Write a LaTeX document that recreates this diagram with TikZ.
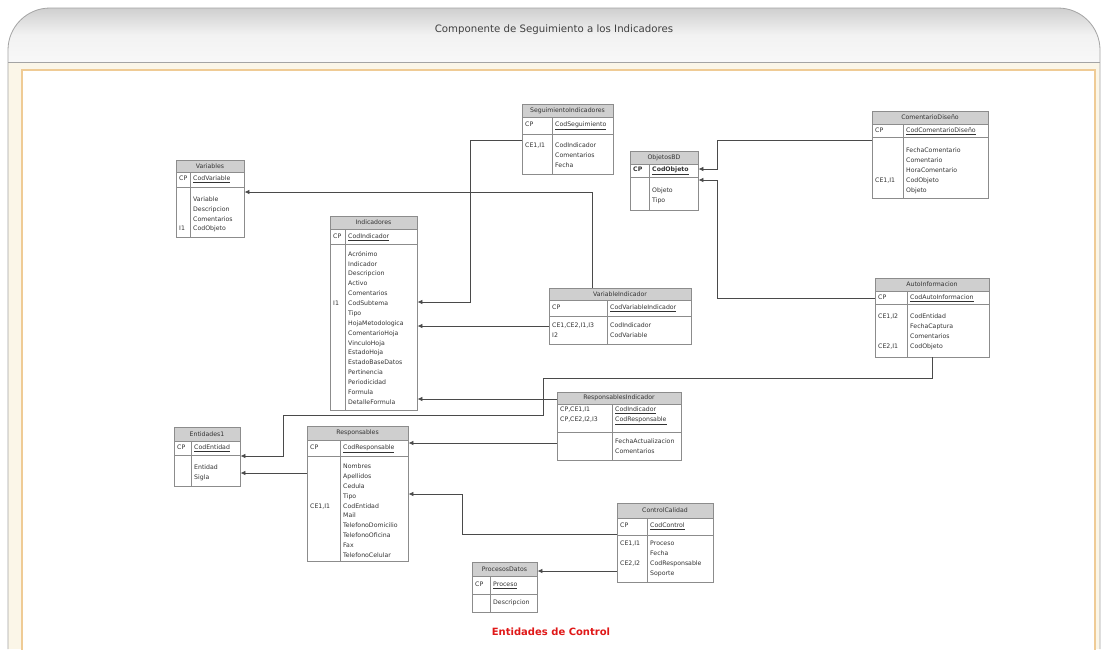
\documentclass[tikz,border=0pt]{standalone}
\usepackage{fontspec}
\setmainfont{DejaVu Sans}
\usetikzlibrary{arrows.meta,fit}
\definecolor{framegray}{HTML}{A4A4A4}
\definecolor{headtop}{HTML}{CFCFCF}
\definecolor{headmid}{HTML}{F2F2F2}
\definecolor{headbot}{HTML}{F8F8F8}
\definecolor{cream}{HTML}{FBF6E8}
\definecolor{innerline}{HTML}{EFCB95}
\definecolor{tblline}{HTML}{8C8C8C}
\definecolor{titlefill}{HTML}{CFCFCF}
\definecolor{tbltext}{HTML}{333333}
\definecolor{connline}{HTML}{4A4A4A}
\definecolor{footred}{HTML}{E01818}

% one ER table: name, x1, x2, y top, y title bottom, y key bottom, y bottom, x divider, title
\newcommand\ertable[9]{%
  \fill[titlefill] (#2,#4) rectangle (#3,#5);
  \draw[tblrule] (#2,#5) -- (#3,#5) (#2,#6) -- (#3,#6) (#8,#5) -- (#8,#7);
  \node[tblbox, fit={(#2,#4) (#3,#7)}] (#1) {};
  \node[tbltitle] (#1-t) at ({(#2+#3)/2},{(#4+#5)/2}) {#9};
}

\begin{document}
\begin{tikzpicture}[x=1pt,y=-1pt,
  tblrule/.style={draw=tblline, line width=0.7pt},
  tblbox/.style={draw=tblline, line width=0.8pt, inner sep=0pt},
  tbltitle/.style={font=\fontsize{6.2}{7}\selectfont, text=tbltext, inner sep=0pt},
  cell/.style={font=\fontsize{6.2}{9.8}\selectfont, text=tbltext, align=left,
    anchor=north west, inner sep=0pt},
  conn/.style={draw=connline, line width=0.8pt,
    -{Latex[length=5pt,width=4.5pt]}}]
\useasboundingbox (0,0) rectangle (1107,649);
\fill[white] (0,0) rectangle (1107,649);

% page frame and header band
\fill[cream] (8,62) rectangle (1100,649);
\shade[top color=headtop, bottom color=headbot, middle color=headmid]
  (8,62) -- (8,50) arc[start angle=180, end angle=270, radius=42] -- (1058,8)
  arc[start angle=270, end angle=360, radius=42] -- (1100,62) -- cycle;
\draw[framegray, line width=0.8pt]
  (8,649) -- (8,50) arc[start angle=180, end angle=270, radius=42] -- (1058,8)
  arc[start angle=270, end angle=360, radius=42] -- (1100,649);
\draw[framegray, line width=0.8pt] (8,62) -- (1100,62);
\draw[innerline, line width=1.2pt, fill=white] (22,70) rectangle (1095,660);
\node[font=\fontsize{10.2}{12}\selectfont, text=black!75] (head) at (554,30)
  {Componente de Seguimiento a los Indicadores};
\node[font=\fontsize{10}{12}\selectfont\bfseries, text=footred] (foot) at (551,632)
  {Entidades de Control};

% tables
\ertable{var}{176}{244}{160}{172}{187}{237}{190}{Variables}
\node[cell] (var-kl) at (179,176) {CP};
\node[cell] (var-kr) at (193,176) {\underline{CodVariable}};
\node[cell] (var-br) at (193,196.5) {Variable\\Descripcion\\Comentarios\\CodObjeto};
\node[cell] (var-bl) at (179,226) {I1};

\ertable{seg}{522}{613}{104}{117}{134}{174}{552}{SeguimientoIndicadores}
\node[cell] (seg-kl) at (525,122) {CP};
\node[cell] (seg-kr) at (555,122) {\underline{CodSeguimiento}};
\node[cell] (seg-bl) at (525,143) {CE1,I1};
\node[cell] (seg-br) at (555,143) {CodIndicador\\Comentarios\\Fecha};

\ertable{obj}{630}{698}{151}{164}{177}{210}{649}{ObjetosBD}
\node[cell, font=\fontsize{6.2}{9.8}\selectfont\bfseries] (obj-kl) at (633,167) {CP};
\node[cell, font=\fontsize{6.2}{9.8}\selectfont\bfseries] (obj-kr) at (652,167) {\underline{CodObjeto}};
\node[cell] (obj-br) at (652,188) {Objeto\\Tipo};

\ertable{com}{872}{988}{111}{124}{137}{198}{903}{ComentarioDiseño}
\node[cell] (com-kl) at (875,127.5) {CP};
\node[cell] (com-kr) at (906,127.5) {\underline{CodComentarioDiseño}};
\node[cell] (com-br) at (906,148) {FechaComentario\\Comentario\\HoraComentario\\CodObjeto\\Objeto};
\node[cell] (com-bl) at (875,177.4) {CE1,I1};

\ertable{ind}{330}{417}{216}{229}{244}{410}{345}{Indicadores}
\node[cell] (ind-kl) at (333,233.5) {CP};
\node[cell] (ind-kr) at (348,233.5) {\underline{CodIndicador}};
\node[cell, font=\fontsize{6.2}{9.87}\selectfont] (ind-br) at (348,251)
  {Acrónimo\\Indicador\\Descripcion\\Activo\\Comentarios\\CodSubtema\\Tipo\\HojaMetodologica\\ComentarioHoja\\VinculoHoja\\EstadoHoja\\EstadoBaseDatos\\Pertinencia\\Periodicidad\\Formula\\DetalleFormula};
\node[cell] (ind-bl) at (333,300.3) {I1};

\ertable{vin}{549}{691}{288}{300}{316}{344}{607}{VariableIndicador}
\node[cell] (vin-kl) at (552,305) {CP};
\node[cell] (vin-kr) at (610,305) {\underline{CodVariableIndicador}};
\node[cell] (vin-bl) at (552,323) {CE1,CE2,I1,I3\\I2};
\node[cell] (vin-br) at (610,323) {CodIndicador\\CodVariable};

\ertable{aut}{875}{989}{278}{291}{304}{357}{907}{AutoInformacion}
\node[cell] (aut-kl) at (878,294.5) {CP};
\node[cell] (aut-kr) at (910,294.5) {\underline{CodAutoInformacion}};
\node[cell] (aut-br) at (910,314) {CodEntidad\\FechaCaptura\\Comentarios\\CodObjeto};
\node[cell] (aut-bl) at (878,314) {CE1,I2};
\node[cell] (aut-bl2) at (878,343.4) {CE2,I1};

\ertable{rin}{557}{681}{392}{404}{432}{460}{612}{ResponsablesIndicador}
\node[cell] (rin-kl) at (560,407) {CP,CE1,I1\\CP,CE2,I2,I3};
\node[cell] (rin-kr) at (615,407) {\underline{CodIndicador}\\\underline{CodResponsable}};
\node[cell] (rin-br) at (615,439) {FechaActualizacion\\Comentarios};

\ertable{ent}{174}{240}{427}{441}{455}{486}{191}{Entidades1}
\node[cell] (ent-kl) at (177,445) {CP};
\node[cell] (ent-kr) at (194,445) {\underline{CodEntidad}};
\node[cell] (ent-br) at (194,465) {Entidad\\Sigla};

\ertable{res}{307}{408}{426}{440}{456}{561}{340}{Responsables}
\node[cell] (res-kl) at (310,445) {CP};
\node[cell] (res-kr) at (343,445) {\underline{CodResponsable}};
\node[cell] (res-br) at (343,464) {Nombres\\Apellidos\\Cedula\\Tipo\\CodEntidad\\Mail\\TelefonoDomicilio\\TelefonoOficina\\Fax\\TelefonoCelular};
\node[cell] (res-bl) at (310,503.2) {CE1,I1};

\ertable{cal}{617}{713}{503}{518}{535}{582}{647}{ControlCalidad}
\node[cell] (cal-kl) at (620,523) {CP};
\node[cell] (cal-kr) at (650,523) {\underline{CodControl}};
\node[cell] (cal-br) at (650,541) {Proceso\\Fecha\\CodResponsable\\Soporte};
\node[cell] (cal-bl) at (620,541) {CE1,I1};
\node[cell] (cal-bl2) at (620,560.6) {CE2,I2};

\ertable{pro}{472}{537}{562}{576}{594}{612}{490}{ProcesosDatos}
\node[cell] (pro-kl) at (475,582) {CP};
\node[cell] (pro-kr) at (493,582) {\underline{Proceso}};
\node[cell] (pro-br) at (493,600) {Descripcion};

% relationships
\draw[conn] (seg.west |- 0,140) -| (470,302) -- (ind.east |- 0,302);
\draw[conn] (vin.north -| 592,0) |- (var.east |- 0,192);
\draw[conn] (vin.west |- 0,326) -- (ind.east |- 0,326);
\draw[conn] (com.west |- 0,140) -| (717,169) -- (obj.east |- 0,169);
\draw[conn] (aut.west |- 0,298) -| (717,180) -- (obj.east |- 0,180);
\draw[conn] (aut.south) -- (932,378) -| (543,415) -| (283,456) -- (ent.east |- 0,456);
\draw[conn] (rin.west |- 0,399) -- (ind.east |- 0,399);
\draw[conn] (rin.west |- 0,443) -- (res.east |- 0,443);
\draw[conn] (res.west |- 0,473) -- (ent.east |- 0,473);
\draw[conn] (cal.west |- 0,534) -| (462,494) -- (res.east |- 0,494);
\draw[conn] (cal.west |- 0,571) -- (pro.east |- 0,571);
\end{tikzpicture}
\end{document}
